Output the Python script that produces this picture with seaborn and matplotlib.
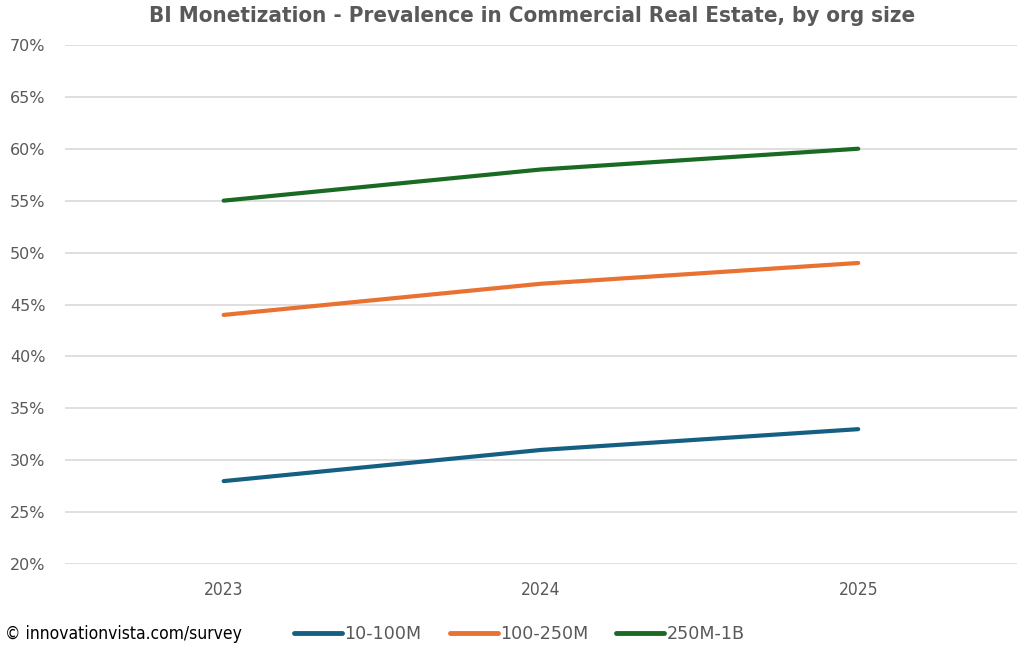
import pandas as pd
import matplotlib.pyplot as plt
import seaborn as sns
from matplotlib.ticker import PercentFormatter

# data
years = ['2023', '2024', '2025']
small = [28, 31, 33]      # 10-100M
mid = [44, 47, 49]        # 100-250M
large = [55, 58, 60]      # 250M-1B
series_names = ['10-100M', '100-250M', '250M-1B']

df = pd.DataFrame({
    'year': years * 3,
    'value': small + mid + large,
    'size': [n for n in series_names for _ in years],
})

sns.set_theme(style='white')
plt.rcParams['font.family'] = ['DejaVu Sans']

fig = plt.figure(figsize=(10.24, 6.5), dpi=100)
ax = fig.add_axes([0.0635, 0.132, 0.9295, 0.799])

palette = ['#156082', '#E97132', '#196B24']
sns.lineplot(data=df, x='year', y='value', hue='size', palette=palette,
             linewidth=3.0, ax=ax, sort=False, legend=False)

ax.set_xlim(-0.5, 2.5)
ax.set_ylim(20, 70)
ax.set_yticks(range(20, 71, 5))
ax.yaxis.set_major_formatter(PercentFormatter(decimals=0))
ax.grid(axis='y', color='#d9d9d9', linewidth=1.2)
ax.set_axisbelow(True)
for s in ax.spines.values():
    s.set_visible(False)
ax.set_xlabel('')
ax.set_ylabel('')
ax.tick_params(axis='both', length=0, labelsize=11.5, labelcolor='#595959')
ax.tick_params(axis='x', pad=12)
ax.tick_params(axis='y', pad=14)
for t in ax.get_xticklabels():
    t.set_fontstretch('condensed')
    t.set_fontsize(12.5)

fig.suptitle('BI Monetization - Prevalence in Commercial Real Estate, by org size',
             x=0.52, y=0.99, fontsize=16, fontweight='bold', color='#595959',
             fontstretch='condensed')

# legend at bottom
handles = [plt.Line2D([], [], color=c, linewidth=3.5) for c in palette]
fig.legend(handles, series_names, loc='center left', bbox_to_anchor=(0.272, 0.025),
           ncol=3, frameon=False, fontsize=12.6, handlelength=2.75, handletextpad=0.12,
           columnspacing=1.6, labelcolor='#595959')
fig.text(0.005, 0.025, '© innovationvista.com/survey', fontsize=12.5, color='black',
         va='center', ha='left', fontstretch='condensed')

fig.savefig('out.png', dpi=100)
